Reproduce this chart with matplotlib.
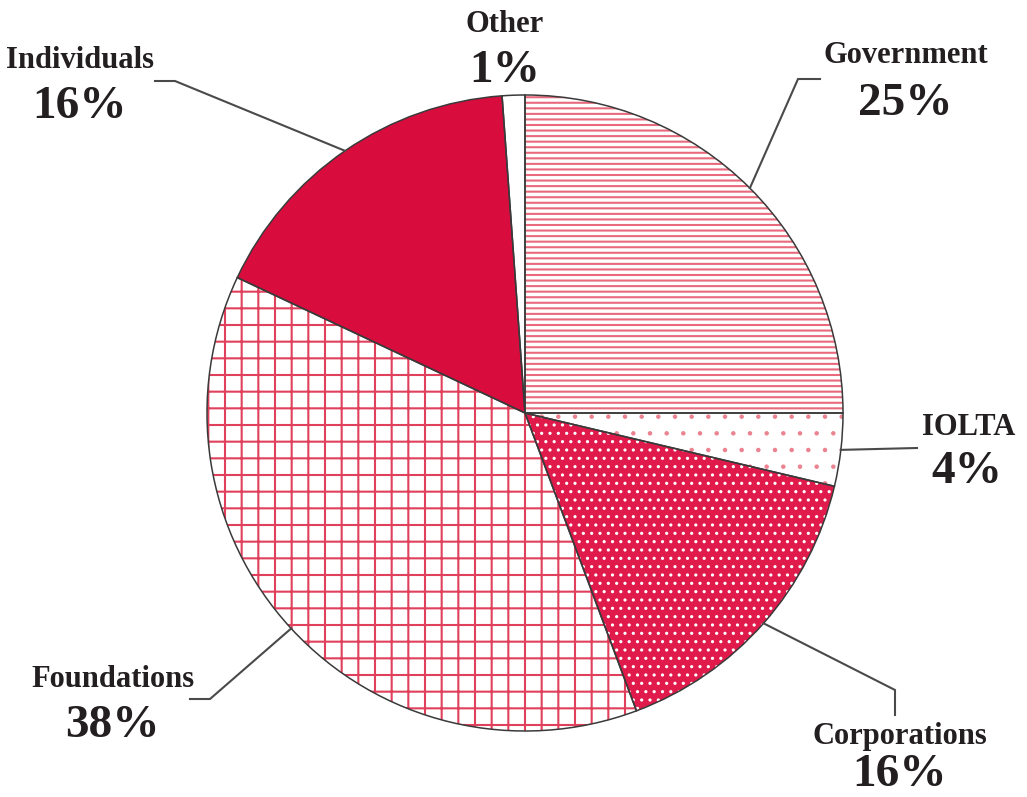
import numpy as np
import matplotlib
matplotlib.use('Agg')
import matplotlib.pyplot as plt

# funding sources, clockwise from 12 o'clock
labels = ['Government', 'IOLTA', 'Corporations', 'Foundations', 'Individuals', 'Other']
# wedge sizes; printed labels are the rounded figures
shares = [25, 3.7, 15.6, 37.7, 16.85, 1.15]
pct_text = ['25%', '4%', '16%', '38%', '16%', '1%']

face = ['white', 'white', '#E01A4B', 'white', '#D90C3E', 'white']
hatch_col = ['#E86A7C', '#EC8290', 'white', '#E0405C', '#D90C3E', 'white']
hatches = ['---', '.', '..', '+', '', '']
hatch_lw = [1.5, 0.8, 1.1, 1.5, 1.0, 1.0]

W, H = 1027, 797
cx, cy, r = 525, 413, 318

# label layout: (name xy baseline, pct xy baseline, leader elbow, leader end)
lab_pos = {
    'Government':   ((906, 63),  (905, 115), (798, 79),  (820, 79)),
    'IOLTA':        ((969, 435), (967, 483), None,       (917, 448)),
    'Corporations': ((900, 744), (900, 786), (895, 690), (895, 715)),
    'Foundations':  ((113, 687), (112, 737), (210, 699), (190, 699)),
    'Individuals':  ((80, 68),   (79, 118),  (175, 81),  (155, 81)),
    'Other':        ((505, 32),  (505, 82),  None,       None),
}

plt.rcParams['hatch.linewidth'] = 1.5
font = ['Liberation Serif', 'DejaVu Serif']
txt_col = '#231F20'

fig = plt.figure(figsize=(W / 100, H / 100), dpi=100)
ax = fig.add_axes([0, 0, 1, 1])

# y axis runs downward, so startangle=-90 with counterclock=True reads
# as 12 o'clock going clockwise on screen
wedges, _ = ax.pie(shares, center=(cx, cy), radius=r, startangle=-90,
                   counterclock=True, colors=face,
                   wedgeprops=dict(linewidth=0))
for w, hc, h, hl in zip(wedges, hatch_col, hatches, hatch_lw):
    w.set_edgecolor(hc)
    w.set_hatch(h)
    if hasattr(w, 'set_hatch_linewidth'):
        w.set_hatch_linewidth(hl)

# outlines on top
ax.pie(shares, center=(cx, cy), radius=r, startangle=-90, counterclock=True,
       colors=['none'] * len(shares),
       wedgeprops=dict(linewidth=1.1, edgecolor='#3a3a3a', fill=False))

ax.set_xlim(0, W)
ax.set_ylim(H, 0)
ax.set_aspect('equal')
ax.axis('off')

cum = 0
for name, v, pt in zip(labels, shares, pct_text):
    mid = np.deg2rad(90 - 360 * (cum + v / 2) / 100)
    cum += v
    npos, ppos, elbow, end = lab_pos[name]
    if end is not None:
        sx, sy = cx + r * np.cos(mid), cy - r * np.sin(mid)
        pts = [(sx, sy)] + ([elbow] if elbow else []) + [end]
        ax.plot([p[0] for p in pts], [p[1] for p in pts], color='#4a4a4a',
                lw=1.5, solid_joinstyle='miter', zorder=5)
    ax.text(npos[0], npos[1], name, ha='center', va='baseline',
            fontsize=22, fontweight='bold', family=font, color=txt_col)
    ax.text(ppos[0], ppos[1], pt, ha='center', va='baseline',
            fontsize=34, fontweight='bold', family=font, color=txt_col)

fig.savefig('out.png', dpi=100, facecolor='white')
